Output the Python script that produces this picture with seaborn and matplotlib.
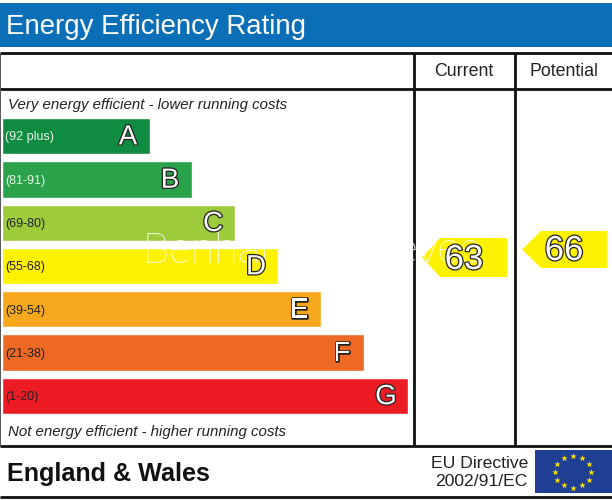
import numpy as np
import pandas as pd
import matplotlib
matplotlib.use("Agg")
import matplotlib.pyplot as plt
import matplotlib.patheffects as pe
import seaborn as sns

letters = ["A", "B", "C", "D", "E", "F", "G"]
ranges = ["(92 plus)", "(81-91)", "(69-80)", "(55-68)", "(39-54)", "(21-38)", "(1-20)"]
bar_lengths = [148, 190, 233, 276, 319, 362, 406]
band_colors = ["#0f8c41", "#2aa24a", "#9dcb3c", "#fff200", "#f7a81c", "#ee6a24", "#ed1c24"]
range_colors = ["#e8f5e8", "#e8f5e8", "#222222", "#222222", "#222222", "#222222", "#222222"]
current = 63
potential = 66

sns.set_theme(style="white")
plt.rcParams["font.family"] = ["Liberation Sans", "DejaVu Sans"]

W, H = 612, 500
fig = plt.figure(figsize=(W / 100, H / 100), dpi=100, facecolor="white")


def axes_px(x0, y0, x1, y1, **kw):
    return fig.add_axes([x0 / W, 1 - y1 / H, (x1 - x0) / W, (y1 - y0) / H], **kw)


# page layout, in pixels
base = axes_px(0, 0, W, H)
base.set_xlim(0, W)
base.set_ylim(H, 0)
base.axis("off")
px = base.transData

base.fill_between([0, W], 3, 47, color="#0a6fb7", lw=0)
base.text(6, 27.5, "Energy Efficiency Rating", color="white", fontsize=19.9, va="center", ha="left")

for y in [53, 89, 446, 497]:
    base.plot([0, W], [y, y], color="#111111", lw=2, solid_capstyle="butt")
for x in [414, 515]:
    base.plot([x, x], [53, 446], color="#111111", lw=2, solid_capstyle="butt")
base.plot([0.3, 0.3], [53, 446], color="#555555", lw=0.7)

base.text(464, 71.5, "Current", fontsize=12.8, ha="center", va="center", color="#222222")
base.text(564, 71.5, "Potential", fontsize=12.8, ha="center", va="center", color="#222222")
base.text(8, 105, "Very energy efficient - lower running costs", fontsize=10.85, style="italic",
          va="center", color="#222222")
base.text(8, 432, "Not energy efficient - higher running costs", fontsize=10.85, style="italic",
          va="center", color="#222222")
base.text(7, 474, "England & Wales", fontsize=18.1, weight="bold", va="center", color="#111111")
base.text(528, 463, "EU Directive", fontsize=12.6, ha="right", va="center", color="#222222")
base.text(528, 481, "2002/91/EC", fontsize=12.6, ha="right", va="center", color="#222222")

# EU flag
base.fill_between([535, W], 450, 493, color="#1f3f94", lw=0)
angles = np.deg2rad(np.arange(0, 360, 30))
base.scatter(573 + 18 * np.cos(angles), 471.5 + 16 * np.sin(angles), marker="*", s=24,
             color="#ffe000", linewidths=0)


# rating arrows: the rating sets how high the arrow sits
def rating_y(v):
    return 257.5 - (v - 63) * 2.67


def arrow(x_tip, x_neck, x_end, v, half):
    y = rating_y(v)
    base.fill([x_tip, x_neck, x_end, x_end, x_neck], [y, y - half, y - half, y + half, y + half],
              color="#fff200", lw=0)


arrow(422, 440, 507, current, 19.5)
arrow(522, 541, 607, potential, 18.5)

# rating bands
df = pd.DataFrame({"letter": letters, "length": bar_lengths})
ax = axes_px(2, 114.5, W, 417.5)
ax.patch.set_alpha(0)
sns.barplot(data=df, y="letter", x="length", hue="letter", palette=band_colors, legend=False,
            orient="h", width=0.84, saturation=1, ax=ax)
ax.set_xlim(0, W - 2)
ax.set_ylim(len(letters) - 0.5, -0.5)
ax.axis("off")

outline = [pe.withStroke(linewidth=1.8, foreground="#222222")]
for i, (rng, letter, length) in enumerate(zip(ranges, letters, bar_lengths)):
    ax.text(3, i + 0.03, rng, fontsize=9, color=range_colors[i], va="center", ha="left")
    ax.text(length - 22, i + 0.03, letter, fontsize=20, color="white", va="center", ha="center",
            path_effects=outline, zorder=6)

# watermark sits over the bands but under letters and digits
ax.text(143, 251, "Benham & Reeves", transform=px, fontsize=31, color="white", alpha=0.8,
        va="center", ha="left", family="Roboto", weight="light", zorder=5, clip_on=False)

for x, v, dy in [(464, current, 2), (564, potential, 1)]:
    ax.text(x, rating_y(v) + dy, str(v), transform=px, fontsize=25, color="white", va="center",
            ha="center", path_effects=outline, zorder=6, clip_on=False)

fig.savefig("out.png", dpi=100, facecolor="white")
